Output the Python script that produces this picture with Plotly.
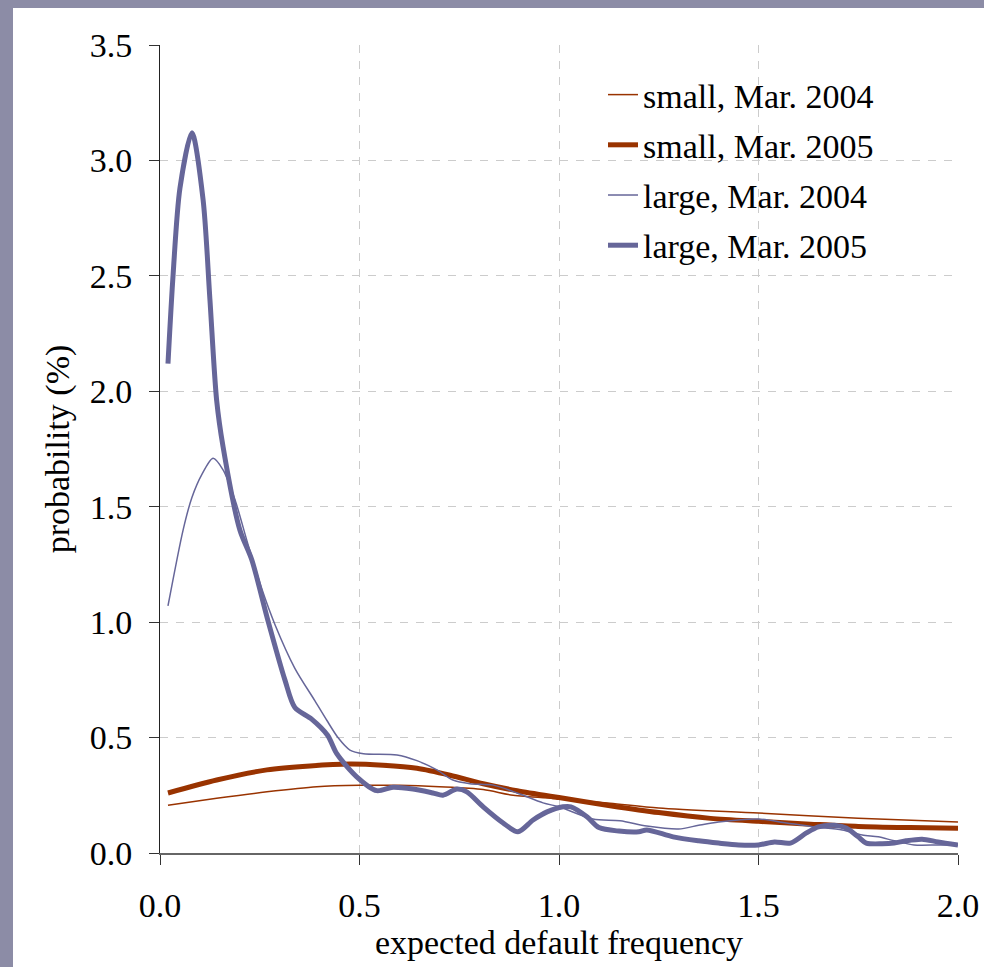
import plotly.graph_objects as go

# ---- data ----
small_2004_x = [0.02, 0.142, 0.268, 0.393, 0.50, 0.60, 0.70, 0.81, 0.885, 1.0, 1.128, 1.25, 1.50, 1.75, 2.0]
small_2004_y = [0.207, 0.237, 0.265, 0.287, 0.293, 0.293, 0.287, 0.275, 0.25, 0.235, 0.216, 0.195, 0.173, 0.15, 0.134]

small_2005_x = [0.02, 0.142, 0.268, 0.376, 0.476, 0.559, 0.644, 0.727, 0.81, 0.895, 1.0, 1.128, 1.25, 1.38, 1.50, 1.63, 1.75, 1.88, 2.0]
small_2005_y = [0.26, 0.316, 0.36, 0.377, 0.385, 0.38, 0.367, 0.337, 0.30, 0.27, 0.24, 0.205, 0.175, 0.15, 0.137, 0.125, 0.115, 0.11, 0.107]

large_2004_x = [0.02, 0.058, 0.08, 0.105, 0.133, 0.158, 0.188, 0.22, 0.256, 0.288, 0.338, 0.388, 0.418, 0.446, 0.476,
                0.51, 0.594, 0.644, 0.694, 0.734, 0.777, 0.835, 0.895, 0.96, 1.0, 1.085, 1.153, 1.22, 1.30,
                1.35, 1.40, 1.50, 1.57, 1.64, 1.71, 1.76, 1.80, 1.84, 1.89, 1.95, 2.0]
large_2004_y = [1.07, 1.40, 1.54, 1.64, 1.71, 1.66, 1.53, 1.34, 1.14, 0.99, 0.80, 0.66, 0.575, 0.50, 0.446,
                0.43, 0.425, 0.40, 0.36, 0.316, 0.30, 0.294, 0.26, 0.217, 0.20, 0.147, 0.14, 0.117, 0.104,
                0.12, 0.134, 0.147, 0.13, 0.113, 0.10, 0.078, 0.07, 0.053, 0.035, 0.035, 0.035]

large_2005_x = [0.02, 0.033, 0.05, 0.08, 0.108, 0.125, 0.142, 0.158, 0.20, 0.23, 0.27, 0.313, 0.338, 0.38, 0.42,
                0.443, 0.493, 0.543, 0.584, 0.634, 0.684, 0.709, 0.744, 0.769, 0.81, 0.86, 0.897, 0.935, 0.97,
                1.01, 1.03, 1.07, 1.10, 1.15, 1.20, 1.22, 1.286, 1.35, 1.40, 1.45, 1.50, 1.54, 1.58, 1.62,
                1.65, 1.69, 1.72, 1.75, 1.77, 1.81, 1.84, 1.87, 1.91, 1.95, 2.0]
large_2005_y = [2.12, 2.51, 2.88, 3.12, 2.83, 2.40, 1.96, 1.76, 1.40, 1.27, 1.01, 0.75, 0.63, 0.58, 0.51,
                0.43, 0.33, 0.27, 0.285, 0.277, 0.26, 0.25, 0.277, 0.265, 0.20, 0.13, 0.092, 0.143, 0.178,
                0.20, 0.20, 0.157, 0.11, 0.095, 0.092, 0.10, 0.07, 0.053, 0.043, 0.035, 0.035, 0.048, 0.043, 0.087,
                0.113, 0.12, 0.108, 0.07, 0.043, 0.04, 0.043, 0.053, 0.06, 0.048, 0.035]

series_names = ["small, Mar. 2004", "small, Mar. 2005", "large, Mar. 2004", "large, Mar. 2005"]
x_ticks = [0.0, 0.5, 1.0, 1.5, 2.0]
y_ticks = [0.0, 0.5, 1.0, 1.5, 2.0, 2.5, 3.0, 3.5]

RUST = "#993300"
SLATE = "#666699"
FONT = "Liberation Serif"

fig = go.Figure()
specs = [
    (small_2004_x, small_2004_y, RUST, 1.5),
    (small_2005_x, small_2005_y, RUST, 5),
    (large_2004_x, large_2004_y, SLATE, 1.5),
    (large_2005_x, large_2005_y, SLATE, 5),
]
for i, (xs, ys, col, w) in enumerate(specs):
    fig.add_trace(go.Scatter(
        x=xs, y=ys, mode="lines", name=series_names[i], legendgroup=f"g{i}",
        line=dict(color=col, width=w, shape="spline", smoothing=0.8),
    ))

W = 798  # plot-area width in px
H = 808  # plot-area height in px
fig.update_layout(
    width=984, height=967, autosize=False,
    margin=dict(l=160, r=26, t=45, b=114, autoexpand=False),
    paper_bgcolor="white", plot_bgcolor="white",
    font=dict(family=FONT, size=34, color="black"),
    showlegend=True,
    legend=dict(
        x=(603 - 160) / W, y=0.974, xanchor="left", yanchor="top",
        bgcolor="rgba(255,255,255,0)", borderwidth=0,
        font=dict(family=FONT, size=34, color="black"),
        tracegroupgap=3, traceorder="grouped",
    ),
    xaxis=dict(
        range=[0, 2.0], tickvals=x_ticks, ticktext=[f"{v:.1f}" for v in x_ticks],
        showline=True, linecolor="#666666", linewidth=2, automargin=False,
        ticks="outside", ticklen=10, tickcolor="#333333", tickwidth=1,
        showgrid=True, gridcolor="#cccccc", gridwidth=1, griddash="8px,8px",
        zeroline=False, ticklabelstandoff=11,
        title=dict(text="expected default frequency", font=dict(family=FONT, size=34), standoff=0),
    ),
    yaxis=dict(
        range=[0, 3.5], tickvals=y_ticks, ticktext=[f"{v:.1f}" for v in y_ticks],
        showline=True, linecolor="#222222", linewidth=1, automargin=False,
        ticks="outside", ticklen=10, tickcolor="#333333", tickwidth=1,
        showgrid=True, gridcolor="#cccccc", gridwidth=1, griddash="8px,8px",
        zeroline=False, ticklabelstandoff=10,
        title=dict(text="probability (%)", font=dict(family=FONT, size=34), standoff=9),
    ),
    shapes=[
        # outer purple frame strips
        dict(type="rect", xref="paper", yref="paper", x0=-0.25, x1=(13 - 160) / W, y0=-0.2, y1=1.1,
             fillcolor="#8c8ca6", line=dict(width=0), layer="below"),
        dict(type="rect", xref="paper", yref="paper", x0=-0.25, x1=1.2, y0=1 + (45 - 8) / H, y1=1.1,
             fillcolor="#8c8ca6", line=dict(width=0), layer="below"),
        # white legend backdrop over the grid
        dict(type="rect", xref="paper", yref="paper", x0=(537 - 160) / W, x1=(943 - 160) / W,
             y0=(853 - 272) / H, y1=(853 - 68) / H,
             fillcolor="white", line=dict(width=0), layer="between"),
    ],
)

post = (
    "document.body.style.margin='0';"
    "document.body.style.overflow='hidden';"
    "document.documentElement.style.overflow='hidden';"
    "var gd=document.getElementById('{plot_id}');"
    "Plotly.relayout(gd,{width:984,height:967});"
)
fig.write_html("out.html", post_script=post,
               config={"responsive": False, "displayModeBar": False})
